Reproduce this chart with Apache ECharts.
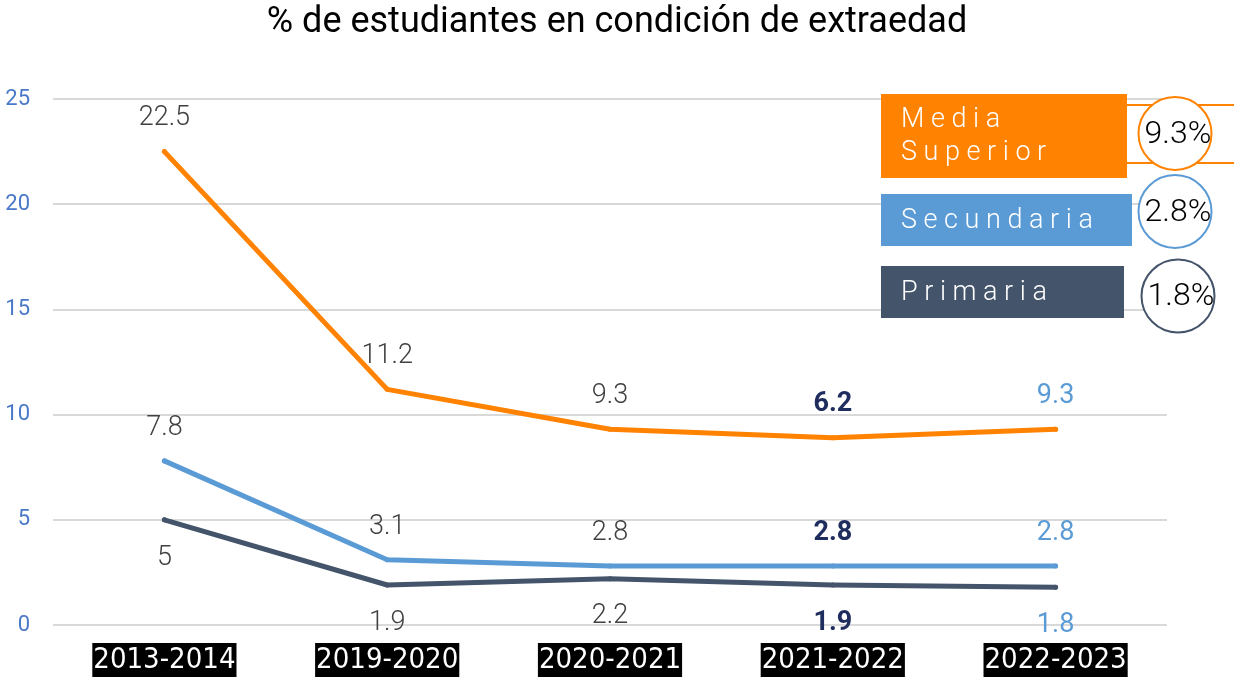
<!DOCTYPE html>
<html>
<head>
<meta charset="utf-8">
<script src="https://cdn.jsdelivr.net/npm/echarts@6/dist/echarts.min.js"></script>
<style>html,body{margin:0;padding:0;background:#fff}#c{width:1234px;height:680px}</style>
</head>
<body>
<div id="c"></div>
<script>
// ---- data ----
const categories = ['2013-2014', '2019-2020', '2020-2021', '2021-2022', '2022-2023'];
const mediaSuperior = [22.5, 11.2, 9.3, 8.9, 9.3];
const secundaria = [7.8, 3.1, 2.8, 2.8, 2.8];
const primaria = [5, 1.9, 2.2, 1.9, 1.8];
const mediaLabels = ['22.5', '11.2', '9.3', '6.2', '9.3'];
const secundariaLabels = ['7.8', '3.1', '2.8', '2.8', '2.8'];
const primariaLabels = ['5', '1.9', '2.2', '1.9', '1.8'];
const legendNames = ['M e d i a\nS u p e r i o r', 'S e c u n d a r i a', 'P r i m a r i a'];
const legendValues = ['9.3%', '2.8%', '1.8%'];
const yTicks = [0, 5, 10, 15, 20, 25];

const COLORS = ['#FF8200', '#5B9BD5', '#44546A'];
const labelStyleByIndex = [
  {color: '#404040', fontWeight: 300},
  {color: '#404040', fontWeight: 300},
  {color: '#404040', fontWeight: 300},
  {color: '#1F2D5E', fontWeight: 'bold'},
  {color: '#5B9BD5', fontWeight: 'normal'}
];

function buildData(values, labels, pos) {
  return values.map((v, i) => ({
    value: v,
    label: Object.assign({formatter: labels[i], position: pos, distance: pos === 'top' ? 17 : 22}, labelStyleByIndex[i])
  }));
}

function lineSeries(name, values, labels, pos, color) {
  return {
    name: name,
    type: 'line',
    data: buildData(values, labels, pos),
    symbol: 'circle',
    symbolSize: 5,
    showSymbol: true,
    itemStyle: {color: color},
    lineStyle: {color: color, width: 5, cap: 'round', join: 'round'},
    label: {show: true, fontSize: 27, fontFamily: 'Roboto'},
    silent: true,
    z: 3
  };
}

const chart = echarts.init(document.getElementById('c'));

const graphics = [];
const boxes = [
  {x: 881, y: 94, w: 246, h: 84},
  {x: 881, y: 194, w: 251, h: 52},
  {x: 881, y: 266, w: 243, h: 52}
];
const circles = [{cx: 1175, cy: 133.5}, {cx: 1175, cy: 211.5}, {cx: 1178, cy: 296}];
graphics.push({type: 'line', shape: {x1: 1127, y1: 105, x2: 1234, y2: 105}, style: {stroke: COLORS[0], lineWidth: 2}});
graphics.push({type: 'line', shape: {x1: 1127, y1: 163, x2: 1234, y2: 163}, style: {stroke: COLORS[0], lineWidth: 2}});
boxes.forEach((b, i) => {
  graphics.push({type: 'rect', shape: {x: b.x, y: b.y, width: b.w, height: b.h}, style: {fill: COLORS[i]}, z: 10});
  graphics.push({type: 'text', x: b.x + 20, y: b.y + b.h / 2 + 1, z: 11,
    style: {text: legendNames[i], fill: '#fff', font: '300 27px Roboto', verticalAlign: 'middle', align: 'left', lineHeight: 33}});
  graphics.push({type: 'circle', shape: {cx: circles[i].cx, cy: circles[i].cy, r: 36.5}, style: {fill: '#fff', stroke: COLORS[i], lineWidth: 2}, z: 12});
  graphics.push({type: 'text', x: circles[i].cx + 3, y: circles[i].cy + 1, z: 13,
    style: {text: legendValues[i], fill: '#000', font: '300 32px Roboto', align: 'center', verticalAlign: 'middle'}});
});

chart.setOption({
  animation: false,
  backgroundColor: '#fff',
  title: {
    text: '% de estudiantes en condición de extraedad',
    left: 'center', top: 0,
    textStyle: {fontFamily: 'Roboto', fontSize: 36, fontWeight: 'normal', color: '#000'}
  },
  grid: {left: 53, right: 67, top: 99, bottom: 55, containLabel: false},
  xAxis: {
    type: 'category',
    data: categories,
    boundaryGap: true,
    axisLine: {show: false},
    axisTick: {show: false},
    axisLabel: {
      margin: 18,
      color: '#fff',
      fontFamily: "'Liberation Sans Narrow', 'DejaVu Sans Condensed', 'Roboto Condensed', sans-serif",
      fontSize: 29,
      backgroundColor: '#000',
      padding: [2, 1, 1, 1],
      lineHeight: 31
    }
  },
  yAxis: {
    type: 'value',
    min: yTicks[0],
    max: yTicks[yTicks.length - 1],
    interval: 5,
    axisLine: {show: false},
    axisTick: {show: false},
    axisLabel: {color: '#4A78C8', fontSize: 22, fontFamily: 'Roboto', margin: 23},
    splitLine: {lineStyle: {color: '#D9D9D9', width: 2}}
  },
  series: [
    lineSeries('Media Superior', mediaSuperior, mediaLabels, 'top', COLORS[0]),
    lineSeries('Secundaria', secundaria, secundariaLabels, 'top', COLORS[1]),
    lineSeries('Primaria', primaria, primariaLabels, 'bottom', COLORS[2])
  ],
  graphic: graphics
});
</script>
</body>
</html>
